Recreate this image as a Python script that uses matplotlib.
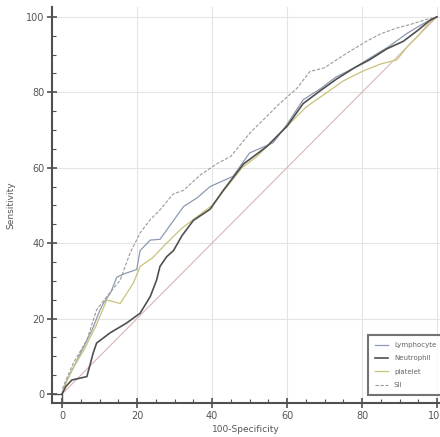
import matplotlib
matplotlib.use("Agg")
import matplotlib.pyplot as plt
from matplotlib.ticker import MultipleLocator

# ---- data ----
lymph_x = [0, 1, 2.5, 4, 6, 8, 10, 11, 13, 14.6, 17, 19.9, 20.8, 23.5, 26.1, 29, 32.4, 36, 39.5, 45.6, 50, 56.3, 60, 64.3, 69, 73, 78, 82, 87, 92, 96, 100]
lymph_y = [0, 3, 6, 9, 13, 17, 22, 24, 27, 31, 32, 33, 38, 40.8, 41, 45, 49.7, 52, 55, 57.7, 63.9, 66.6, 71.5, 78, 81, 84, 86.5, 89, 92, 95.6, 98, 100]

neut_x = [0, 1, 2.6, 6.6, 8.3, 9.2, 12.8, 17.2, 20.8, 23.5, 25.2, 26.1, 27.9, 29.7, 32, 35, 39.5, 43, 48.4, 54.6, 60, 64.3, 69, 73.2, 78, 82, 86.6, 91, 95, 98, 100]
neut_y = [0, 2, 3.7, 4.6, 10.9, 13.5, 16.2, 18.8, 21.4, 25.8, 30.2, 33.8, 36.4, 38, 42, 46, 49, 54, 61, 65.6, 71, 77, 80.5, 83.5, 86.5, 88.6, 91.5, 93.5, 96.5, 99, 100]

plat_x = [0, 1, 3, 6, 9, 11.9, 15.5, 19, 20.8, 24, 27.9, 32, 36, 40, 44, 48, 52, 56, 60, 65, 70, 75, 80, 85, 89.3, 92, 95, 98, 100]
plat_y = [0, 3, 7, 12, 18, 24.9, 24, 29.4, 33.8, 36, 40, 44, 47, 50, 55, 60, 63, 67, 71, 76, 79.5, 83, 85.5, 87.5, 88.6, 92, 95, 98.5, 100]

sii_x = [0, 0.3, 3, 6.6, 9.2, 11.9, 15.5, 18.1, 20.8, 23.5, 26.1, 29.6, 32.4, 36.8, 41.2, 45, 50.1, 55.5, 58, 62.6, 66.1, 70, 73.2, 77, 81.2, 85, 89.2, 93, 97.2, 100]
sii_y = [0, 2, 8.2, 14.3, 22.3, 25.8, 30.2, 37.3, 42.7, 46.2, 48.8, 53, 54, 58, 61, 63, 69.2, 74.5, 77, 81, 85.5, 86.5, 88.6, 91, 93.5, 95.5, 97, 98, 99.3, 100]

diag = [0, 100]
ticks = [0, 20, 40, 60, 80, 100]
labels = ["Lymphocyte", "Neutrophil", "platelet", "SII"]

fig = plt.figure(figsize=(4.40, 4.37), dpi=100)
ax = fig.add_axes([52/440, 34/437, 388/440, 396/437])

for v in ticks[1:]:
    ax.axvline(v, color="#e4e4e4", lw=0.8, zorder=0)
    ax.axhline(v, color="#e4e4e4", lw=0.8, zorder=0)

ax.plot(diag, diag, color="#dcb4b4", lw=0.8, zorder=1)
l1, = ax.plot(lymph_x, lymph_y, color="#8c9ab0", lw=0.9, label=labels[0], zorder=3)
l2, = ax.plot(neut_x, neut_y, color="#505050", lw=1.2, label=labels[1], zorder=4)
l3, = ax.plot(plat_x, plat_y, color="#c9c27a", lw=0.9, label=labels[2], zorder=3)
l4, = ax.plot(sii_x, sii_y, color="#9a9a9a", lw=0.8, ls=(0, (3, 1.5)), label=labels[3], zorder=3)

xmin, xmax = -2.7, 100.8
ymin, ymax = -2.4, 102.6
ax.set_xlim(xmin, xmax)
ax.set_ylim(ymin, ymax)
# small origin box
ax.plot([xmin, 0, 0], [0, 0, ymin], color="#505050", lw=1.0, clip_on=False, zorder=5)

for s in ["top", "right"]:
    ax.spines[s].set_visible(False)
for s in ["left", "bottom"]:
    ax.spines[s].set_color("#505050")
    ax.spines[s].set_linewidth(1.5)

ax.set_xticks(ticks)
ax.set_yticks(ticks)
ax.xaxis.set_minor_locator(MultipleLocator(5))
ax.yaxis.set_minor_locator(MultipleLocator(5))
ax.tick_params(which="major", direction="inout", length=7, width=1.2, color="#505050",
               labelsize=7, labelcolor="#555555", pad=2)
ax.tick_params(which="minor", direction="in", length=3, width=0.8, color="#505050")

ax.set_xlabel("100-Specificity", fontsize=6.5, color="#555555", labelpad=3)
ax.set_ylabel("Sensitivity", fontsize=6.5, color="#555555", labelpad=8)

leg = ax.legend(handles=[l1, l2, l3, l4], loc="upper left", bbox_to_anchor=(0.806, 0.18),
                fontsize=5, frameon=True, fancybox=False, handlelength=1.8,
                labelspacing=1.05, borderpad=1.0, handletextpad=0.9)
leg.get_frame().set_edgecolor("#505050")
leg.get_frame().set_linewidth(1.5)
for t in leg.get_texts():
    t.set_color("#666666")

fig.savefig("out.png", dpi=100)
